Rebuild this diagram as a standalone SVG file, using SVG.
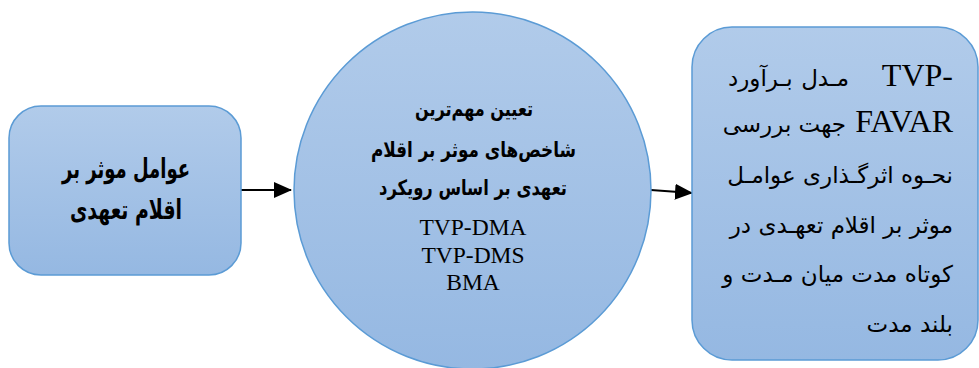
<svg xmlns="http://www.w3.org/2000/svg" width="979" height="368" viewBox="0 0 979 368">
<style>
.shape{fill:url(#g);stroke:#5b9bd5;stroke-width:1.5}
.fa{font-family:"DejaVu Sans",sans-serif;fill:#000}
.fab{font-family:"DejaVu Sans",sans-serif;font-weight:bold;fill:#000}
.lat{font-family:"Liberation Serif","Times New Roman",serif;fill:#000}
.conn{stroke:#000;stroke-width:2;fill:none;marker-end:url(#ah)}
</style>
<defs>
<linearGradient id="g" x1="0" y1="0" x2="0" y2="1">
<stop offset="0" stop-color="#b1cbea"/>
<stop offset="1" stop-color="#95b8e2"/>
</linearGradient>
<marker id="ah" markerWidth="9" markerHeight="8" refX="8.5" refY="4" orient="auto" markerUnits="strokeWidth">
<path d="M0,0 L9,4 L0,8 Z" fill="#000"/>
</marker>
</defs>
<rect width="979" height="368" fill="#fff"/>
<g id="connectors">
<line class="conn" x1="241" y1="190" x2="291" y2="190"/>
<line class="conn" x1="651" y1="190" x2="692" y2="193"/>
</g>
<g id="node-factors">
<rect class="shape" x="9" y="106" width="232" height="169" rx="32"/>
<text class="fab" x="62" y="178" font-size="27" textLength="128" lengthAdjust="spacingAndGlyphs">عوامل موثر بر</text>
<text class="fab" x="70" y="219" font-size="27" textLength="112" lengthAdjust="spacingAndGlyphs">اقلام تعهدی</text>
</g>
<g id="node-indicators">
<circle class="shape" cx="472.5" cy="190.5" r="178.5"/>
<text class="fab" x="415" y="116" font-size="21" textLength="118" lengthAdjust="spacingAndGlyphs">تعیین مهم‌ترین</text>
<text class="fab" x="371" y="157" font-size="21" textLength="205" lengthAdjust="spacingAndGlyphs">شاخص‌های موثر بر اقلام</text>
<text class="fab" x="379" y="195" font-size="21" textLength="188" lengthAdjust="spacingAndGlyphs">تعهدی بر اساس رویکرد</text>
<text class="lat" x="473" y="235" font-size="23.5" text-anchor="middle">TVP-DMA</text>
<text class="lat" x="473" y="263" font-size="23.5" text-anchor="middle">TVP-DMS</text>
<text class="lat" x="473" y="290" font-size="23.5" text-anchor="middle">BMA</text>
</g>
<g id="node-model">
<rect class="shape" x="692" y="27" width="286" height="333" rx="40"/>
<text class="lat" x="942.3" y="86" font-size="32" text-anchor="end">TVP</text>
<text class="lat" x="942.3" y="86" font-size="32" text-anchor="start">-</text>
<text class="fa" x="728" y="86" font-size="23" text-anchor="start">بـرآورد</text>
<text class="fa" x="849" y="86" font-size="23" text-anchor="end">مـدل</text>
<text class="lat" x="953" y="132" font-size="32" text-anchor="end">FAVAR</text>
<text class="fa" x="846" y="132" font-size="23" direction="rtl" text-anchor="start">جهت بررسی</text>
<text class="fa" x="953" y="183" font-size="23" direction="rtl" text-anchor="start">نحـوه اثرگـذاری عوامـل</text>
<text class="fa" x="953" y="233" font-size="23" direction="rtl" text-anchor="start">موثر بر اقلام تعهـدی در</text>
<text class="fa" x="953" y="282" font-size="23" direction="rtl" text-anchor="start">کوتاه مدت میان مـدت و</text>
<text class="fa" x="953" y="332" font-size="23" direction="rtl" text-anchor="start">بلند مدت</text>
</g>
</svg>
